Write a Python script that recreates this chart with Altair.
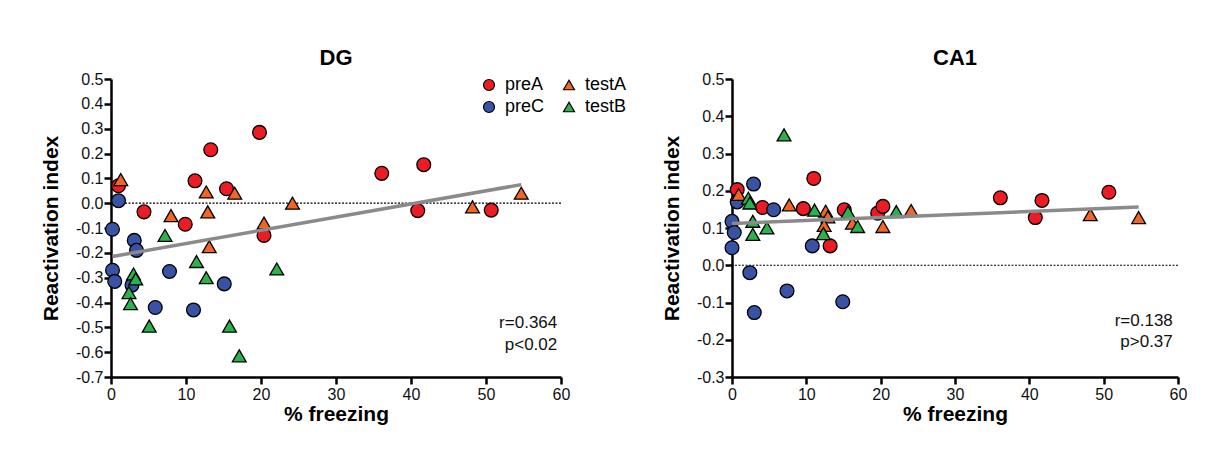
import altair as alt
import pandas as pd

groups = ["preA", "testA", "preC", "testB"]
legend_order = ["preA", "preC", "testA", "testB"]
colors = ["#ED1C24", "#F26522", "#3953A4", "#2BB24C"]
shapes = ["circle", "triangle-up", "circle", "triangle-up"]

# ---- DG panel values ----
dg_preA_x = [19.8, 13.3, 11.2, 15.4, 1.0, 4.4, 9.9, 20.4, 36.1, 41.7, 40.9, 50.7]
dg_preA_y = [0.285, 0.215, 0.09, 0.058, 0.07, -0.035, -0.085, -0.13, 0.12, 0.155, -0.03, -0.028]
dg_preC_x = [1.0, 0.2, 3.1, 3.4, 0.2, 0.5, 7.8, 2.8, 15.1, 5.9, 11.0]
dg_preC_y = [0.01, -0.105, -0.15, -0.19, -0.27, -0.315, -0.275, -0.33, -0.325, -0.42, -0.43]
dg_testA_x = [1.3, 12.7, 16.5, 8.0, 12.9, 20.4, 13.1, 24.2, 48.2, 54.7]
dg_testA_y = [0.095, 0.045, 0.04, -0.05, -0.035, -0.08, -0.175, 0.0, -0.015, 0.04]
dg_testB_x = [7.2, 11.4, 3.0, 3.3, 2.4, 2.6, 12.7, 5.1, 15.8, 17.1, 22.1]
dg_testB_y = [-0.13, -0.235, -0.285, -0.305, -0.36, -0.405, -0.30, -0.495, -0.495, -0.615, -0.265]

# ---- CA1 panel values ----
ca_preA_x = [11.0, 0.7, 4.1, 9.6, 13.2, 15.1, 19.6, 20.3, 36.1, 41.7, 40.8, 50.7]
ca_preA_y = [0.233, 0.203, 0.155, 0.152, 0.052, 0.149, 0.14, 0.158, 0.181, 0.174, 0.128, 0.196]
ca_preC_x = [2.9, 0.7, 5.6, 10.8, 0.0, 0.3, 0.0, 2.4, 3.0, 7.4, 14.9]
ca_preC_y = [0.218, 0.17, 0.149, 0.052, 0.118, 0.088, 0.047, -0.02, -0.127, -0.069, -0.098]
ca_testA_x = [0.9, 7.7, 12.6, 12.9, 12.4, 16.2, 20.3, 24.1, 48.2, 54.7]
ca_testA_y = [0.19, 0.162, 0.145, 0.13, 0.107, 0.113, 0.104, 0.147, 0.136, 0.128]
ca_testB_x = [7.0, 2.2, 2.4, 11.1, 12.3, 15.6, 16.9, 2.8, 2.8, 4.7, 22.1]
ca_testB_y = [0.35, 0.18, 0.167, 0.148, 0.085, 0.143, 0.104, 0.118, 0.083, 0.10, 0.144]

dg_ticks = [-0.7, -0.6, -0.5, -0.4, -0.3, -0.2, -0.1, 0.0, 0.1, 0.2, 0.3, 0.4, 0.5]
ca_ticks = [-0.3, -0.2, -0.1, 0.0, 0.1, 0.2, 0.3, 0.4, 0.5]
x_ticks = [0, 10, 20, 30, 40, 50, 60]

dg_stats = ["r=0.364", "p<0.02"]
ca_stats = ["r=0.138", "p>0.37"]


def make_df(series):
    rows = []
    for g, xs, ys in series:
        for a, b in zip(xs, ys):
            rows.append({"freezing": a, "index": b, "group": g})
    return pd.DataFrame(rows)


dg_df = make_df([("preA", dg_preA_x, dg_preA_y), ("preC", dg_preC_x, dg_preC_y),
                 ("testA", dg_testA_x, dg_testA_y), ("testB", dg_testB_x, dg_testB_y)])
ca_df = make_df([("preA", ca_preA_x, ca_preA_y), ("preC", ca_preC_x, ca_preC_y),
                 ("testA", ca_testA_x, ca_testA_y), ("testB", ca_testB_x, ca_testB_y)])

label_expr = "replace(format(datum.value, '.1f'), '\u2212', '-')"


def panel(df, title, ticks, stats, stat_x, stat_y, width, show_legend):
    xenc = alt.X("freezing:Q", scale=alt.Scale(domain=[0, 60], nice=False),
                 axis=alt.Axis(values=x_ticks, tickCount=len(x_ticks), title="% freezing",
                               labelOverlap=False))
    yenc = alt.Y("index:Q", scale=alt.Scale(domain=[ticks[0], ticks[-1]], nice=False, zero=False),
                 axis=alt.Axis(values=ticks, tickCount=len(ticks), title="Reactivation index",
                               labelExpr=label_expr, labelOverlap=False, labelFlush=False))
    zero = alt.Chart(pd.DataFrame({"index": [0.0]})).mark_rule(
        color="black", strokeWidth=1.2, strokeDash=[2, 1.5]).encode(y="index:Q")
    legend = alt.Legend(orient="none", legendX=369, legendY=-3, columns=2, title=None,
                        values=legend_order, symbolSize=121, labelFontSize=18, columnPadding=15,
                        rowPadding=4, labelOffset=7, symbolStrokeColor="black",
                        symbolStrokeWidth=1.2, labelColor="black") if show_legend else None
    points = alt.Chart(df).mark_point(filled=True, size=190, stroke="black", strokeWidth=1.3,
                                      opacity=1).encode(
        x=xenc, y=yenc,
        color=alt.Color("group:N", scale=alt.Scale(domain=groups, range=colors), legend=legend),
        shape=alt.Shape("group:N", scale=alt.Scale(domain=groups, range=shapes), legend=legend),
    )
    fit = alt.Chart(df).transform_regression("freezing", "index").mark_line(
        color="#8a8a8a", strokeWidth=3.5).encode(x="freezing:Q", y="index:Q")
    ann = alt.Chart(pd.DataFrame({"freezing": [stat_x, stat_x], "index": stat_y, "t": stats})).mark_text(
        align="right", baseline="middle", fontSize=17, color="#111").encode(
        x="freezing:Q", y="index:Q", text="t:N")
    return alt.layer(zero, points, fit, ann).properties(
        width=width, height=298,
        title=alt.TitleParams(title, fontSize=22, fontWeight="bold", offset=1))


dg = panel(dg_df, "DG", dg_ticks, dg_stats, 59.5, [-0.484, -0.573], 450, True)
ca = panel(ca_df, "CA1", ca_ticks, ca_stats, 59.3, [-0.149, -0.205], 446, False)

chart = alt.hconcat(dg, ca, spacing=91).configure(
    font="Liberation Sans", padding={"left": 32, "top": 39, "right": 5, "bottom": 5}
).configure_view(stroke=None).configure_axis(
    domainColor="black", domainWidth=2.5, tickColor="black", tickWidth=2.5, tickSize=7,
    labelFontSize=16, labelColor="#111", labelPadding=1, grid=False, labelOverlap=False,
    labelFlush=False, titleFontSize=21, titleFontWeight="bold", titleColor="black"
).configure_axisY(titlePadding=14).configure_axisX(titlePadding=1, labelPadding=2).configure_title(color="black")

chart.save("out.html", embed_options={"renderer": "svg", "actions": False})
